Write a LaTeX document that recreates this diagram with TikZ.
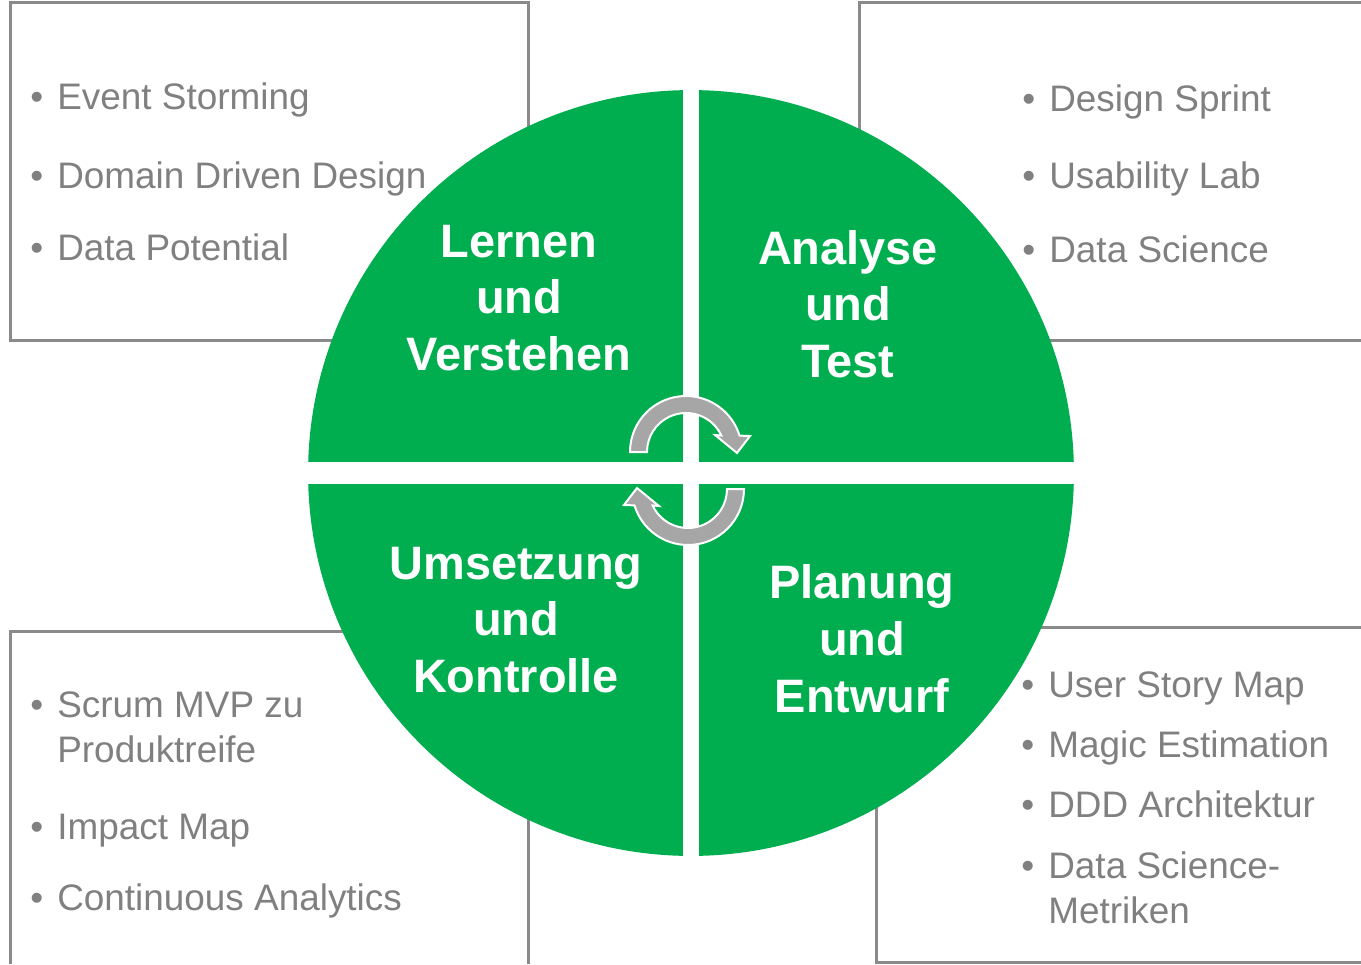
\documentclass[tikz,border=0pt]{standalone}
\usepackage{fontspec}
\setmainfont{Liberation Sans}
\definecolor{cyclegreen}{HTML}{00AE50}
\definecolor{boxgray}{HTML}{8A8A8A}
\definecolor{textgray}{HTML}{808080}
\definecolor{arrowgray}{HTML}{A6A6A6}
\tikzset{
  phase/.style={text=white, align=center, inner sep=0pt,
    font=\fontsize{26.7}{32.3}\selectfont\bfseries},
  item/.style={text=textgray, anchor=base west, inner sep=0pt,
    font=\fontsize{21}{25.6}\selectfont},
  methodbox/.style={draw=boxgray, line width=0.06cm}
}
\newcommand{\bul}{\llap{\textbullet\hspace{0.28cm}}}

\begin{document}
\begin{tikzpicture}[x=0.02cm, y=0.02cm]
\useasboundingbox (-691,-491) rectangle (670,473);
% method boxes
\draw[methodbox] (-680,470) rectangle (-163,133);
\draw[methodbox] (670,470) -- (168,470) -- (168,133) -- (670,133);
\draw[methodbox] (-680,-491) -- (-680,-158) -- (-163,-158) -- (-163,-491);
\draw[methodbox] (670,-154) -- (185,-154) -- (185,-489) -- (670,-489);
% method lists
\node[item] (es) at (-634,363) {\bul Event Storming};
\node[item] (ddd) at (-634,285) {\bul Domain Driven Design};
\node[item] (dp) at (-634,213) {\bul Data Potential};
\node[item] (ds) at (358,361) {\bul Design Sprint};
\node[item] (ul) at (358,285) {\bul Usability Lab};
\node[item] (dsc) at (358,211) {\bul Data Science};
\node[item] (mvp) at (-634,-244) {\bul Scrum MVP zu};
\node[item] (mvp2) at (-634,-289) {Produktreife};
\node[item] (im) at (-634,-366) {\bul Impact Map};
\node[item] (ca) at (-634,-437) {\bul Continuous Analytics};
\node[item] (usm) at (357,-224) {\bul User Story Map};
\node[item] (me) at (357,-284) {\bul Magic Estimation};
\node[item] (ddda) at (357,-344) {\bul DDD Architektur};
\node[item] (dsm) at (357,-405) {\bul Data Science-};
\node[item] (dsm2) at (357,-450) {Metriken};
% quadrants
\node[circle, fill=cyclegreen, inner sep=0pt, minimum size=15.32cm,
  path picture={
    \fill[white] ([xshift=-0.16cm]path picture bounding box.north)
      rectangle ([xshift=0.16cm]path picture bounding box.south);
    \fill[white] ([yshift=-0.22cm]path picture bounding box.west)
      rectangle ([yshift=0.22cm]path picture bounding box.east);
  }] (cycle) at (0,0) {};
\node[phase] (learn) at (-172,175) {Lernen\\und\\Verstehen};
\node[phase] (analyse) at (157,169) {Analyse\\und\\Test};
\node[phase] (umsetz) at (-175,-147) {Umsetzung\\und\\Kontrolle};
\node[phase] (plan) at (171,-165.5) {Planung\\und\\Entwurf};
% cycle arrows
\foreach \cx/\cy/\rot in {-5/21/0, -3/-16/180}
  \filldraw[fill=arrowgray, draw=white, line width=0.04cm,
    shift={(\cx,\cy)}, rotate=\rot]
    (180:39) -- (180:56) arc[start angle=180, end angle=17, radius=56]
    -- (64,16) -- (51,-1) -- (29,17) -- (25:39)
    arc[start angle=25, end angle=180, radius=39] -- cycle;
\end{tikzpicture}
\end{document}
